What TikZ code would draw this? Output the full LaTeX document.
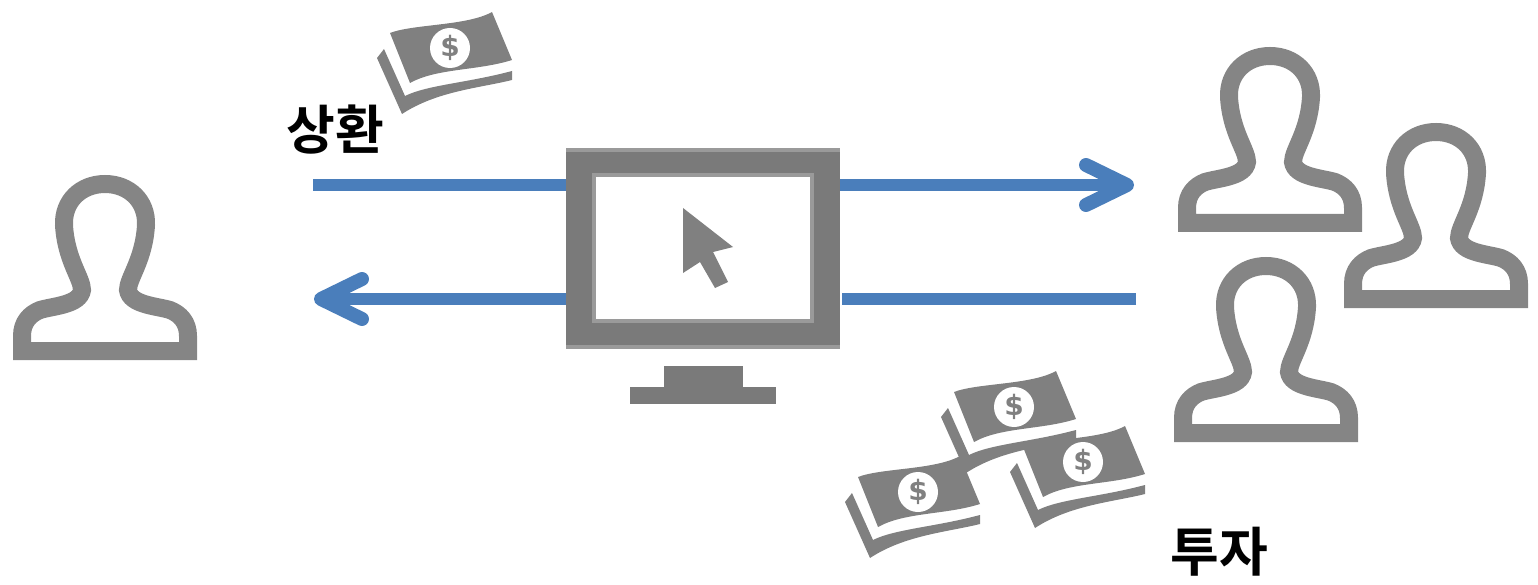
\documentclass[tikz,border=0pt]{standalone}
\usepackage{fontspec}
\usepackage{xcolor}
\usetikzlibrary{arrows.meta, positioning}
\newfontfamily\krfont{Noto Sans CJK KR}[BoldFont={Noto Sans CJK KR Bold}]
\newfontfamily\signfont{DejaVu Sans}
\definecolor{iconGray}{HTML}{808080}
\definecolor{personGray}{HTML}{858585}
\definecolor{monitorGray}{HTML}{7A7A7A}
\definecolor{edgeGray}{HTML}{9A9A9A}
\definecolor{flowBlue}{HTML}{4A7EBB}

\tikzset{
  person/.pic={
    \draw[personGray, line width=18pt, miter limit=10]
      (9,-9) -- (9,-24) .. controls (9,-38) and (17,-46) .. (27,-50)
      .. controls (40,-54) and (67,-55) .. (69,-70)
      .. controls (69,-82) and (53,-100) .. (51,-135)
      .. controls (50,-159) and (68,-176) .. (92,-176)
      .. controls (116,-176) and (134,-159) .. (133,-135)
      .. controls (131,-100) and (115,-82) .. (115,-70)
      .. controls (117,-55) and (144,-54) .. (157,-50)
      .. controls (167,-46) and (175,-38) .. (175,-24)
      -- (175,-9) -- cycle;
  },
  banknote/.pic={
    \fill[iconGray] (-60,-15) .. controls (-37,-24) and (17,-22) .. (42,-36)
      -- (62,12) .. controls (27,23) and (-13,20) .. (-40,35) -- cycle;
    \fill[iconGray] (-73,10) -- (-66,1) -- (-45,48)
      .. controls (-23,37) and (17,35) .. (62,23)
      -- (62,32) .. controls (30,40) and (-13,43) .. (-48,66) -- cycle;
    \node[moneysign] (-sign) at (0,0) {\$};
  }
}

\begin{document}
\begin{tikzpicture}[
      x=1pt, y=-1pt,
      moneysign/.style={circle, fill=white, draw=none, inner sep=0pt, minimum size=40pt, text=iconGray, font=\signfont\bfseries\fontsize{28pt}{28pt}\selectfont},
      label/.style={font=\krfont\bfseries\fontsize{53pt}{53pt}\selectfont, inner sep=0pt},
      flow/.style={draw=flowBlue, line width=12pt},
      flowhead/.style={flow, -{Straight Barb[length=41pt, width=40pt, line width=14pt, round]}},
      monitorpart/.style={fill=monitorGray, inner sep=0pt, outer sep=0pt}
    ]
    \useasboundingbox (0,0) rectangle (1538,585);

    % people
    \pic (borrower) at (13,360) {person};
    \pic (investorA) at (1344,308) {person};
    \pic (investorB) at (1178,232) {person};
    \pic (investorC) at (1174,442) {person};

    % monitor
    \node (monitor) [monitorpart, minimum width=274pt, minimum height=201pt] at (703,248.5) {};
    \node (topEdge) [fill=edgeGray, inner sep=0pt, minimum width=274pt, minimum height=4pt, below=0pt of monitor.north] {};
    \node (bottomEdge) [fill=edgeGray, inner sep=0pt, minimum width=274pt, minimum height=4pt, above=0pt of monitor.south] {};
    \node (screen) [fill=white, draw=edgeGray, line width=4pt, inner sep=0pt, minimum width=218pt, minimum height=145pt] at (703,248) {};
    \fill[iconGray] (683,208) -- (733,247) -- (713,252) -- (728,282) -- (715,288) -- (700,262) -- (683,273) -- cycle;
    \node (neck) [monitorpart, minimum width=79pt, minimum height=21pt] at (703,376.5) {};
    \node (foot) [monitorpart, minimum width=146pt, minimum height=17pt, below=0pt of neck] {};

    % arrows
    \coordinate (repayStart) at (313,185);
    \coordinate (investEnd) at (1134,185);
    \coordinate (investStart) at (1136,299);
    \coordinate (repayEnd) at (314,299);
    \draw[flow] (repayStart) -- (repayStart -| monitor.west);
    \draw[flowhead] (investEnd -| monitor.east) -- (investEnd);
    \draw[flow] (investStart) -- ([xshift=2pt]investStart -| monitor.east);
    \draw[flowhead] (repayEnd -| monitor.west) -- (repayEnd);

    % money
    \pic (noteA) at (450,48) {banknote};
    \pic (noteC) at (1083,462) {banknote};
    \pic (noteD) at (918,492) {banknote};
    \pic (noteB) at (1014,407) {banknote};

    % labels
    \node (repay) [label] at (335,130) {상환};
    \node (invest) [label] at (1219,552) {투자};
\end{tikzpicture}
\end{document}
